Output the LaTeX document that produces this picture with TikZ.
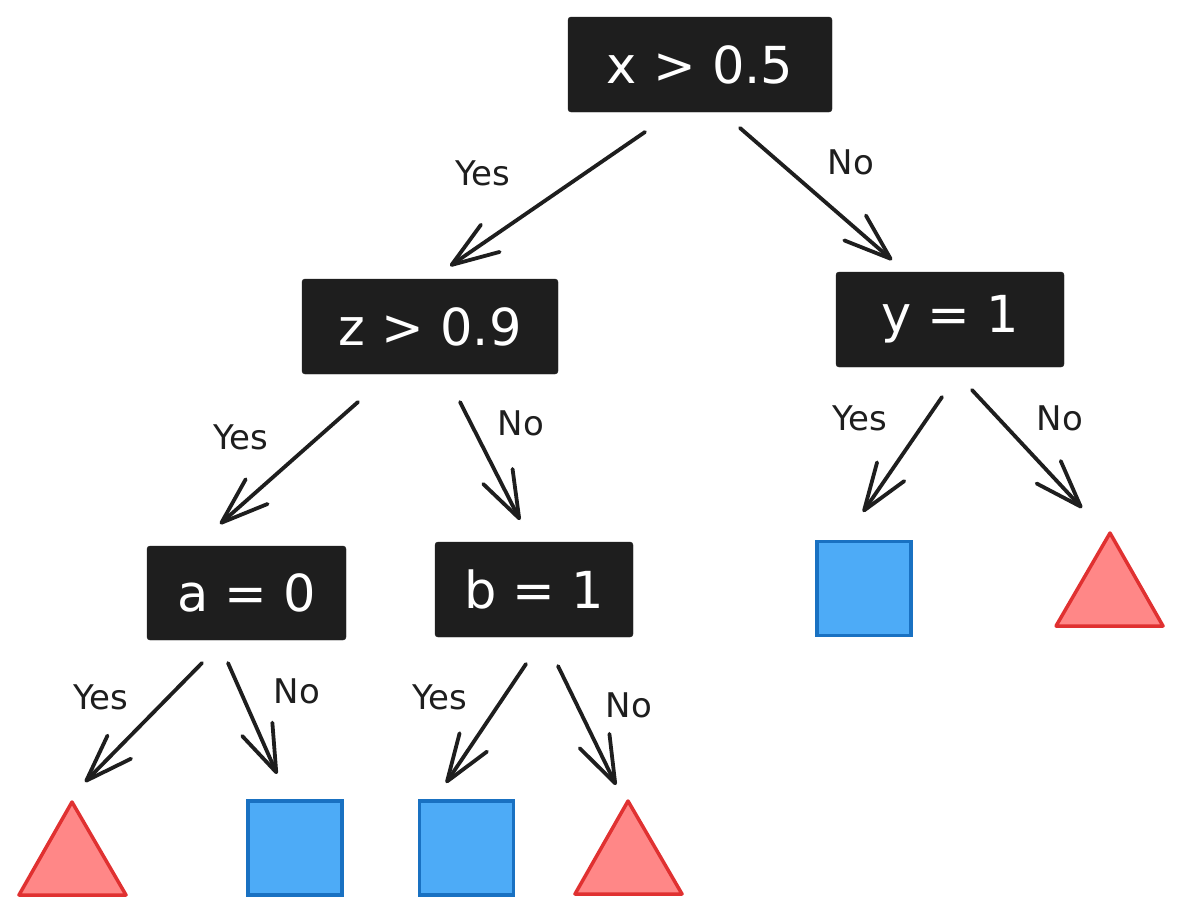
\documentclass[tikz,border=0pt]{standalone}
\usepackage{fontspec}
\setmainfont{DejaVu Sans}
\usetikzlibrary{arrows.meta}
\definecolor{ink}{HTML}{1E1E1E}
\definecolor{bluefill}{HTML}{4DABF7}
\definecolor{bluestroke}{HTML}{1971C2}
\definecolor{redfill}{HTML}{FF8787}
\definecolor{redstroke}{HTML}{E03131}
\tikzset{
  test/.style={fill=ink, draw=ink, rounded corners=3pt, text=white,
    font=\fontsize{51}{58}\selectfont, inner sep=0pt},
  edge/.style={draw=ink, line width=3.8pt, line cap=round, line join=round,
    -{Straight Barb[length=47pt,width=33pt,line cap=round,line join=round]}},
  lbl/.style={text=ink, font=\fontsize{34}{40}\selectfont, inner sep=0pt},
  leafsq/.style={fill=bluefill, draw=bluestroke, line width=3.5pt,
    minimum width=94pt, minimum height=94pt, inner sep=0pt},
  leaftri/.style={fill=redfill, draw=redstroke, line width=3.5pt, line join=round},
}
\begin{document}
\begin{tikzpicture}[x=1pt,y=-1pt]
\useasboundingbox (0,0) rectangle (1182,916);

% decision nodes
\node[test, minimum width=264pt, minimum height=95pt] (root) at (700,64.5) {x > 0.5};
\node[test, minimum width=256pt, minimum height=95pt] (z) at (430,326.5) {z > 0.9};
\node[test, minimum width=228pt, minimum height=95pt] (y) at (950,319.5) {y = 1};
\node[test, minimum width=199pt, minimum height=94pt] (a) at (246.5,593) {a = 0};
\node[test, minimum width=198pt, minimum height=95pt] (b) at (534,589.5) {b = 1};

% leaves: squares
\node[leafsq] (yyes) at (864,588.5) {};
\node[leafsq] (ano) at (295,848) {};
\node[leafsq] (byes) at (466.5,848) {};

% leaves: triangles
\draw[leaftri] (1056,626) -- (1110,533) -- (1163,626) -- cycle;
\draw[leaftri] (19,895) -- (72,802) -- (126,895) -- cycle;
\draw[leaftri] (575,894) -- (628,801) -- (682,894) -- cycle;

% connector end points
\coordinate (r1) at (645,132);  \coordinate (r1e) at (450,266);
\coordinate (r2) at (740,128);  \coordinate (r2e) at (892,260);
\coordinate (z1) at (358,402);  \coordinate (z1e) at (220,524);
\coordinate (z2) at (460,402);  \coordinate (z2e) at (520,520);
\coordinate (y1) at (942,397);  \coordinate (y1e) at (863,512);
\coordinate (y2) at (972,390);  \coordinate (y2e) at (1082,508);
\coordinate (a1) at (202,663);  \coordinate (a1e) at (85,782);
\coordinate (a2) at (228,663);  \coordinate (a2e) at (277,774);
\coordinate (b1) at (526,664);  \coordinate (b1e) at (446,783);
\coordinate (b2) at (558,666);  \coordinate (b2e) at (616,785);

% connectors
\draw[edge] (r1) -- (r1e);
\draw[edge] (r2) -- (r2e);
\draw[edge] (z1) -- (z1e);
\draw[edge] (z2) -- (z2e);
\draw[edge] (y1) -- (y1e);
\draw[edge] (y2) -- (y2e);
\draw[edge] (a1) -- (a1e);
\draw[edge] (a2) -- (a2e);
\draw[edge] (b1) -- (b1e);
\draw[edge] (b2) -- (b2e);

% branch labels
\node[lbl] (lr1) at (483,173) {Yes};
\node[lbl] (lr2) at (851,162) {No};
\node[lbl] (lz1) at (241,437) {Yes};
\node[lbl] (lz2) at (521,423) {No};
\node[lbl] (ly1) at (860,418) {Yes};
\node[lbl] (ly2) at (1060,418) {No};
\node[lbl] (la1) at (101,697) {Yes};
\node[lbl] (la2) at (297,691) {No};
\node[lbl] (lb1) at (440,697) {Yes};
\node[lbl] (lb2) at (629,705) {No};
\end{tikzpicture}
\end{document}
